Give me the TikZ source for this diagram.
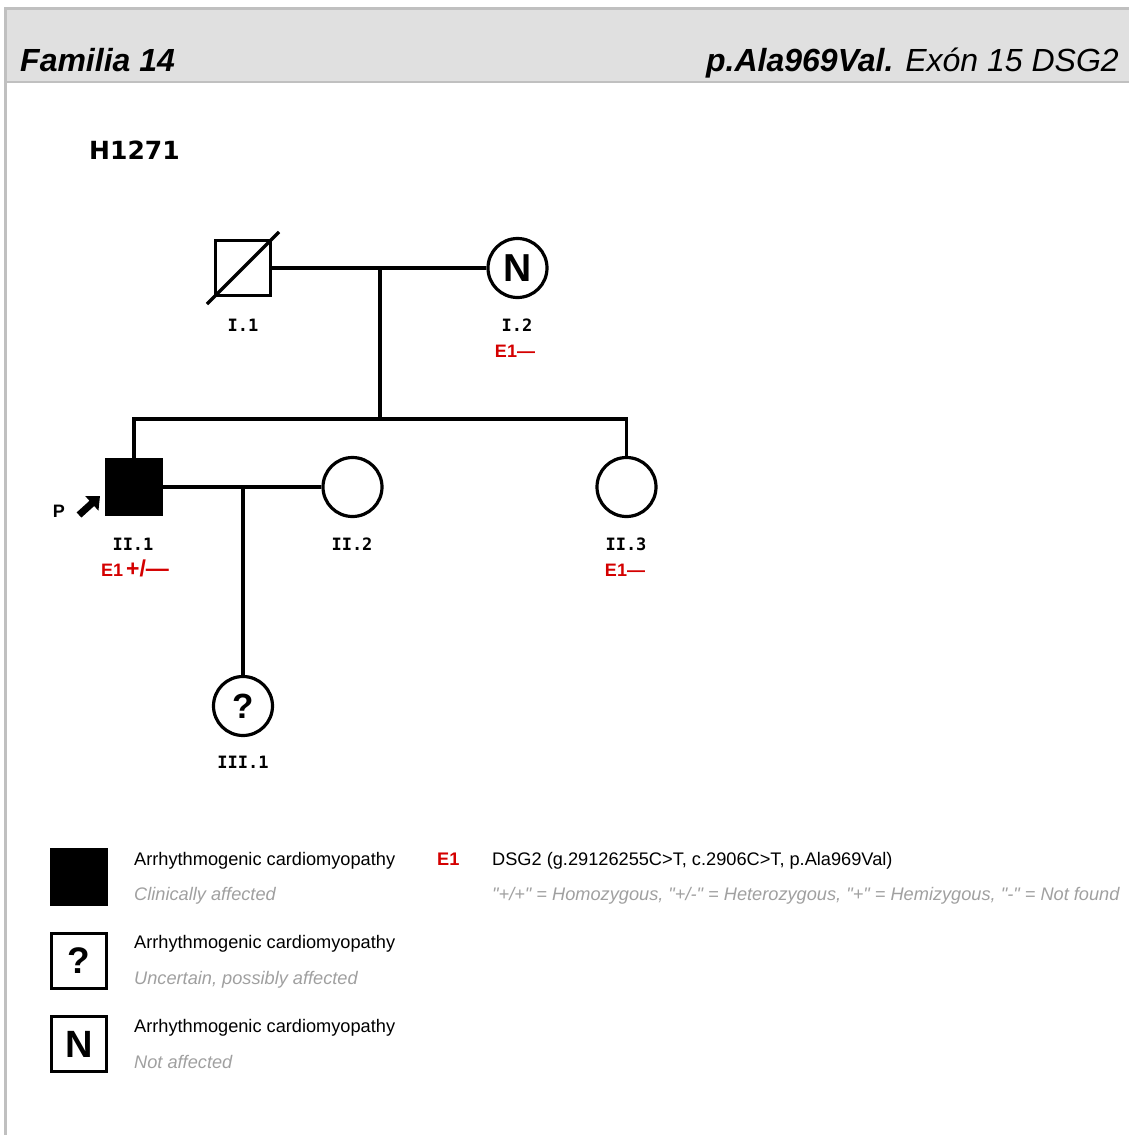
\documentclass[tikz,border=0pt]{standalone}
\usepackage{fontspec}
\setmainfont{Liberation Sans}
\newfontfamily\dvsans{DejaVu Sans}
\newfontfamily\dvmono{DejaVu Sans Mono}
\usetikzlibrary{arrows.meta}
\newcommand\myfs[1]{\fontsize{#1}{#1}\selectfont}
\newcommand\dq{\textquotedbl}
\definecolor{hdrgray}{HTML}{E0E0E0}
\definecolor{frmgray}{HTML}{C0C0C0}
\definecolor{txtgray}{HTML}{A0A0A0}
\definecolor{gred}{HTML}{D40000}
\tikzset{
  male/.style={rectangle,draw,line width=3.5pt,minimum size=55pt,inner sep=0pt},
  female/.style={circle,draw,line width=3.2pt,minimum size=59pt,inner sep=0pt},
  affected/.style={fill=black},
  lgbox/.style={rectangle,draw,line width=3.5pt,minimum size=55pt,inner sep=0pt},
  pid/.style={font=\dvmono\bfseries\myfs{17},anchor=base,inner sep=0pt},
  geno/.style={font=\bfseries\myfs{18},text=gred,anchor=base,inner sep=0pt},
  lgtxt/.style={font=\myfs{18.2},anchor=base west,inner sep=0pt},
  lgsub/.style={font=\itshape\myfs{18.2},text=txtgray,anchor=base west,inner sep=0pt},
  pline/.style={line width=3.5pt},
}
\begin{document}
\begin{tikzpicture}[x=1pt,y=-1pt]
\useasboundingbox (0,0) rectangle (1129,1135);
% header and frame
\fill[hdrgray] (5,8) rectangle (1129,82);
\draw[frmgray,line width=1.5pt] (5,82) -- (1129,82);
\draw[frmgray,line width=3pt] (1129,8) -- (5,8) -- (5,1135);
\node[font=\bfseries\itshape\myfs{32},anchor=base west,inner sep=0pt] (title) at (20,71) {Familia 14};
\node[font=\itshape\myfs{32},anchor=base east,inner sep=0pt] (mut) at (1119,71) {\bfseries p.Ala969Val.\mdseries{} Exón 15 DSG2};
\node[font=\dvsans\bfseries\myfs{25},anchor=base west,inner sep=0pt] (fam) at (89,159.5) {H1271};
% individuals
\node[male] (I1) at (243,268) {};
\node[female,font=\bfseries\myfs{39}] (I2) at (517.5,268) {N};
\node[male,affected] (II1) at (134,487) {};
\node[female] (II2) at (352.5,487) {};
\node[female] (II3) at (626.5,487) {};
\node[female,font=\bfseries\myfs{35}] (III1) at (243,706) {?};
\draw[pline] ([shift={(-36,36)}]I1.center) -- ([shift={(36,-36)}]I1.center);
% connectors
\coordinate (m1) at (380,268);
\coordinate (s1) at (380,419);
\coordinate (m2) at (243,487);
\draw[pline] (I1.east) -- (I2.west);
\draw[pline] (m1) -- (s1);
\draw[pline] (II1.north) -- (II1.north |- s1) -- (II3.north |- s1) -- (II3.north);
\draw[pline] (II1.east) -- (II2.west);
\draw[pline] (m2) -- (III1.north);
% labels
\node[pid] (lI1) at (243,331.5) {I.1};
\node[pid] (lI2) at (517,331.5) {I.2};
\node[geno] (gI2) at (515,357) {E1—};
\node[pid] (lII1) at (133,550) {II.1};
\node[geno] (gII1) at (135,576) {E1\hspace{3pt}\myfs{23}+/—};
\node[pid] (lII2) at (352,550) {II.2};
\node[pid] (lII3) at (626,550) {II.3};
\node[geno] (gII3) at (625,576) {E1—};
\node[pid] (lIII1) at (243,768) {III.1};
% proband
\node[font=\bfseries\myfs{18},anchor=base,inner sep=0pt] (P) at (59,517) {P};
\coordinate (pa) at (79,515);
\coordinate (pb) at (100,496);
\draw[line width=7pt,-{Triangle[length=11pt 0 0,width=19pt 0 0]}] (pa) -- (pb);
% legend
\node[lgbox,fill=black] (L1) at (79,877) {};
\node[lgbox,font=\bfseries\myfs{37}] (L2) at (79,961) {?};
\node[lgbox,font=\bfseries\myfs{38}] (L3) at (79,1044) {N};
\node[lgtxt] (t1) at (134,865) {Arrhythmogenic cardiomyopathy};
\node[lgsub] (u1) at (134,900) {Clinically affected};
\node[lgtxt] (t2) at (134,948.5) {Arrhythmogenic cardiomyopathy};
\node[lgsub] (u2) at (134,984) {Uncertain, possibly affected};
\node[lgtxt] (t3) at (134,1032) {Arrhythmogenic cardiomyopathy};
\node[lgsub] (u3) at (134,1068) {Not affected};
\node[lgtxt,font=\bfseries\myfs{18.2},text=gred] (e1) at (437,865) {E1};
\node[lgtxt] (d1) at (492,865) {DSG2 (g.29126255C>T, c.2906C>T, p.Ala969Val)};
\node[lgsub] (d2) at (492,900) {\dq+/+\dq{} = Homozygous, \dq+/-\dq{} = Heterozygous, \dq+\dq{} = Hemizygous, \dq-\dq{} = Not found};
\end{tikzpicture}
\end{document}
